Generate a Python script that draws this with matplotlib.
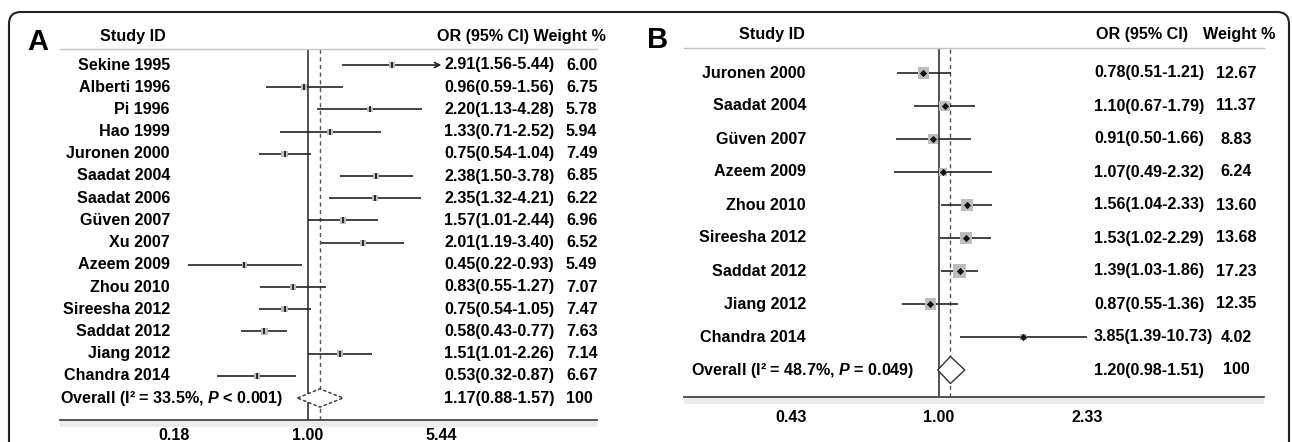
import numpy as np
import matplotlib
matplotlib.use("Agg")
import matplotlib.pyplot as plt
from matplotlib import transforms
from matplotlib.patches import Polygon, FancyBboxPatch, Rectangle

plt.rcParams['font.family'] = ['Liberation Sans', 'DejaVu Sans']
plt.rcParams['font.weight'] = 'bold'
plt.rcParams['mathtext.fontset'] = 'custom'
plt.rcParams['mathtext.it'] = 'Liberation Sans:bold:italic'
plt.rcParams['mathtext.rm'] = 'Liberation Sans:bold'

# ---------------- Data: panel A ----------------
studies_A = ["Sekine 1995", "Alberti 1996", "Pi 1996", "Hao 1999", "Juronen 2000",
             "Saadat 2004", "Saadat 2006", "Güven 2007", "Xu 2007", "Azeem 2009",
             "Zhou 2010", "Sireesha 2012", "Saddat 2012", "Jiang 2012", "Chandra 2014"]
or_A = [2.91, 0.96, 2.20, 1.33, 0.75, 2.38, 2.35, 1.57, 2.01, 0.45, 0.83, 0.75, 0.58, 1.51, 0.53]
lo_A = [1.56, 0.59, 1.13, 0.71, 0.54, 1.50, 1.32, 1.01, 1.19, 0.22, 0.55, 0.54, 0.43, 1.01, 0.32]
hi_A = [5.44, 1.56, 4.28, 2.52, 1.04, 3.78, 4.21, 2.44, 3.40, 0.93, 1.27, 1.05, 0.77, 2.26, 0.87]
wt_A = [6.00, 6.75, 5.78, 5.94, 7.49, 6.85, 6.22, 6.96, 6.52, 5.49, 7.07, 7.47, 7.63, 7.14, 6.67]
overall_A = (1.17, 0.88, 1.57)
overall_label_A = "Overall (I² = 33.5%, $P$ < 0.001)"
overall_wt_A = "100"
ticklabels_A = ["0.18", "1.00", "5.44"]

# ---------------- Data: panel B ----------------
studies_B = ["Juronen 2000", "Saadat 2004", "Güven 2007", "Azeem 2009", "Zhou 2010",
             "Sireesha 2012", "Saddat 2012", "Jiang 2012", "Chandra 2014"]
or_B = [0.78, 1.10, 0.91, 1.07, 1.56, 1.53, 1.39, 0.87, 3.85]
lo_B = [0.51, 0.67, 0.50, 0.49, 1.04, 1.02, 1.03, 0.55, 1.39]
hi_B = [1.21, 1.79, 1.66, 2.32, 2.33, 2.29, 1.86, 1.36, 10.73]
wt_B = [12.67, 11.37, 8.83, 6.24, 13.60, 13.68, 17.23, 12.35, 4.02]
overall_B = (1.20, 0.98, 1.51)
overall_label_B = "Overall (I² = 48.7%, $P$ = 0.049)"
overall_wt_B = "100"
ticklabels_B = ["0.43", "1.00", "2.33"]

ARROW_STUDIES_A = {"Sekine 1995"}

W, H = 1292, 442
fig = plt.figure(figsize=(W / 100, H / 100), dpi=100)
fx = lambda px: px / W
fy = lambda py: 1 - py / H

FS = 11.6


def fmt_ci(o, l, h):
    return f"{o:.2f}({l:.2f}-{h:.2f})"


def panel(ax_px, row0, row_h, axis_y, head_y, center_px, scale, studies, ors, los, his,
          wts, overall, ov_label, ov_wt, ticklabels, sq_k, mid_marker, mid_ms,
          label_right, ov_left, or_left, wt_x, wt_ha, diamond_ls, arrows, tick_pad):
    x0, x1 = ax_px
    ax = fig.add_axes([fx(x0), fy(axis_y), (x1 - x0) / W, (axis_y - head_y) / H])
    ax.set_xscale('log')
    ax.set_xlim(np.exp((x0 - center_px) / scale), np.exp((x1 - center_px) / scale))
    ymin = (head_y - row0) / row_h
    ymax = (axis_y - row0) / row_h
    ax.set_ylim(ymax, ymin)
    ax.patch.set_alpha(0)
    for s in ['left', 'right']:
        ax.spines[s].set_visible(False)
    ax.spines['top'].set_color('#c4c4c4')
    ax.spines['top'].set_linewidth(1.0)
    ax.spines['bottom'].set_color('#444444')
    ax.spines['bottom'].set_linewidth(1.3)
    ax.set_yticks([])
    tmax = max(his)
    ax.set_xticks([1 / tmax, 1, tmax])
    ax.set_xticklabels(ticklabels)
    ax.xaxis.set_minor_locator(matplotlib.ticker.NullLocator())
    ax.tick_params(axis='x', direction='out', length=4, width=1, color='#444444',
                   labelsize=FS, pad=tick_pad)
    for lab in ax.get_xticklabels():
        lab.set_fontweight('bold')

    ax.axvline(1, color='#222222', lw=1.1, zorder=1)
    ax.axvline(overall[0], color='#555555', lw=1.0, ls=(0, (3, 2.5)), zorder=1)

    ys = np.arange(len(studies))
    for i, (s, o, l, h) in enumerate(zip(studies, ors, los, his)):
        if s in arrows:
            ax.annotate('', xy=(h, i), xytext=(l, i),
                        arrowprops=dict(arrowstyle='->', lw=1.2, color='#222222',
                                        shrinkA=0, shrinkB=0, mutation_scale=9))
        else:
            ax.plot([l, h], [i, i], color='#222222', lw=1.2, solid_capstyle='butt', zorder=2)
    ax.scatter(ors, ys, s=np.array(wts) * sq_k, marker='s', color='#bdbdbd',
               edgecolors='none', zorder=3)
    ax.plot(ors, ys, ls='none', marker=mid_marker, ms=mid_ms, color='#111111',
            mew=1.2, zorder=4)

    yo = len(studies)
    o, l, h = overall
    dh = 0.41
    diamond = Polygon([(l, yo), (o, yo - dh), (h, yo), (o, yo + dh)], closed=True,
                      fill=True, facecolor='white', edgecolor='#333333', lw=1.0,
                      ls=diamond_ls, zorder=5)
    ax.add_patch(diamond)

    tr = transforms.blended_transform_factory(fig.transFigure, ax.transData)
    for i, (s, o_, l_, h_, w_) in enumerate(zip(studies, ors, los, his, wts)):
        ax.text(fx(label_right), i, s, transform=tr, ha='right', va='center',
                fontsize=FS, fontweight='bold', clip_on=False)
        ax.text(fx(or_left), i, fmt_ci(o_, l_, h_), transform=tr, ha='left',
                va='center', fontsize=FS, fontweight='bold', clip_on=False)
        ax.text(fx(wt_x), i, f"{w_:.2f}", transform=tr, ha=wt_ha, va='center',
                fontsize=FS, fontweight='bold', clip_on=False)
    ax.text(fx(ov_left), yo, ov_label, transform=tr, ha='left', va='center',
            fontsize=FS, fontweight='bold', clip_on=False)
    ax.text(fx(or_left), yo, fmt_ci(o, l, h), transform=tr, ha='left', va='center',
            fontsize=FS, fontweight='bold', clip_on=False)
    ax.text(fx(wt_x), yo, ov_wt, transform=tr, ha=wt_ha, va='center',
            fontsize=FS, fontweight='bold', clip_on=False)

    # light grey band under the axis
    fig.patches.append(Rectangle((fx(x0), fy(axis_y + 7)), (x1 - x0) / W, 6 / H,
                                 transform=fig.transFigure, facecolor='#ececec',
                                 edgecolor='none', zorder=0))
    return ax


axA = panel((60, 597), 65, 22.2, 420, 49, 307.5, 79.0, studies_A, or_A, lo_A, hi_A,
            wt_A, overall_A, overall_label_A, overall_wt_A, ticklabels_A,
            sq_k=3.0, mid_marker='|', mid_ms=5, label_right=170, ov_left=60,
            or_left=444, wt_x=566, wt_ha='left', diamond_ls=(0, (2.5, 1.5)),
            arrows=ARROW_STUDIES_A, tick_pad=1.5)

axB = panel((684, 1264), 73, 33.0, 397, 48, 939, 62.5, studies_B, or_B, lo_B, hi_B,
            wt_B, overall_B, overall_label_B, overall_wt_B, ticklabels_B,
            sq_k=5.5, mid_marker='D', mid_ms=2.5, label_right=806, ov_left=691,
            or_left=1094, wt_x=1236, wt_ha='center', diamond_ls='-',
            arrows=set(), tick_pad=5)

# headers
fig.text(fx(133), fy(36), "Study ID", ha='center', va='center', fontsize=FS, fontweight='bold')
fig.text(fx(437), fy(36), "OR (95% CI) Weight %", ha='left', va='center', fontsize=FS,
         fontweight='bold')
fig.text(fx(772), fy(35), "Study ID", ha='center', va='center', fontsize=FS, fontweight='bold')
fig.text(fx(1096), fy(35), "OR (95% CI)", ha='left', va='center', fontsize=FS,
         fontweight='bold')
fig.text(fx(1203), fy(35), "Weight %", ha='left', va='center', fontsize=FS, fontweight='bold')

# panel letters
fig.text(fx(27), fy(42), "A", ha='left', va='center', fontsize=21, fontweight='bold')
fig.text(fx(647), fy(40), "B", ha='left', va='center', fontsize=21, fontweight='bold')

# outer rounded border
border = FancyBboxPatch((9, -40), 1280, H - 12 + 40,
                        boxstyle="round,pad=0,rounding_size=12",
                        transform=transforms.IdentityTransform(),
                        fill=False, edgecolor='#222222', lw=1.5)
fig.patches.append(border)

fig.savefig("out.png", dpi=100)
